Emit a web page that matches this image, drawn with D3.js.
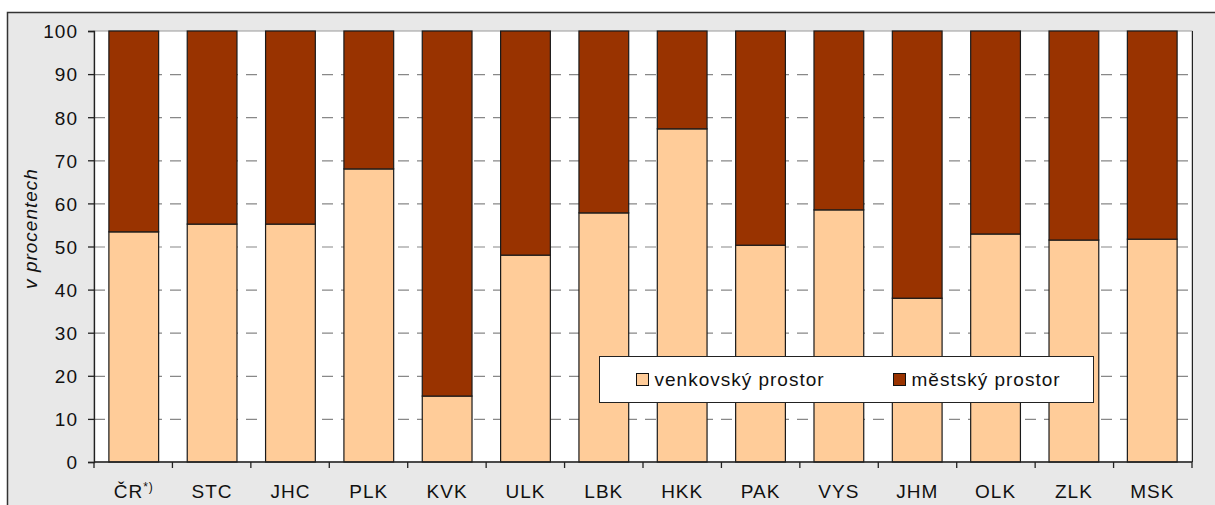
<!DOCTYPE html>
<html>
<head>
<meta charset="utf-8">
<script src="https://cdn.jsdelivr.net/npm/d3@7"></script>
<style>
  body { margin: 0; background: #fff; }
  svg { display: block; font-family: "Liberation Sans", Arial, sans-serif; }
  text { letter-spacing: 1px; }
</style>
</head>
<body>
<div id="chart"></div>
<script>
/* CONSTANTS AND GLOBALS */
const width = 1215;
const height = 505;
const margin = { top: 31, right: 23, bottom: 43, left: 94 };
const rural_color = '#FFCC99'
const urban_color = '#993300'
const fontSize = 19

/* DATA */
const regions = ['ČR', 'STC', 'JHC', 'PLK', 'KVK', 'ULK', 'LBK', 'HKK', 'PAK', 'VYS', 'JHM', 'OLK', 'ZLK', 'MSK']
const rural = [53.4, 55.2, 55.2, 68.0, 15.3, 48.0, 57.8, 77.3, 50.3, 58.5, 38.0, 52.9, 51.5, 51.7]
const urban = rural.map(v => 100 - v)
const seriesNames = ['venkovský prostor', 'městský prostor']
const yTicks = [0, 10, 20, 30, 40, 50, 60, 70, 80, 90, 100]

const data = regions.map((r, i) => ({ region: r, rural: rural[i], urban: urban[i] }))

/* SCALES */
const xScale = d3.scaleBand()
  .domain(regions)
  .range([margin.left, width - margin.right])
  .paddingInner(0.365)
  .paddingOuter(0.19)

const yScale = d3.scaleLinear()
  .domain([0, 100])
  .range([height - margin.bottom, margin.top])

const stack = d3.stack().keys(['rural', 'urban'])
const stacked = stack(data)

/* HTML ELEMENTS */
const svg = d3.select('#chart')
  .append('svg')
  .attr('width', width)
  .attr('height', height)

// outer gray frame
svg.append('rect')
  .attr('x', 7.5).attr('y', 12.5)
  .attr('width', width + 20).attr('height', height + 20)
  .attr('fill', '#E8E8E8')
  .attr('stroke', '#333')
  .attr('stroke-width', 1.5)

// plot area
svg.append('rect')
  .attr('x', margin.left).attr('y', margin.top)
  .attr('width', width - margin.right - margin.left)
  .attr('height', height - margin.bottom - margin.top)
  .attr('fill', 'white')
  .attr('stroke', '#999')

// gridlines
svg.append('g')
  .selectAll('line')
  .data(yTicks.filter(d => d > 0 && d < 100))
  .join('line')
  .attr('x1', margin.left)
  .attr('x2', width - margin.right)
  .attr('y1', d => yScale(d) + 0.5)
  .attr('y2', d => yScale(d) + 0.5)
  .attr('stroke', '#888')
  .attr('stroke-dasharray', '11,8')
  .attr('stroke-width', 1.2)

// right plot edge
svg.append('line')
  .attr('x1', width - margin.right + 0.5).attr('x2', width - margin.right + 0.5)
  .attr('y1', margin.top).attr('y2', height - margin.bottom)
  .attr('stroke', '#222')

// bars
svg.append('g')
  .selectAll('g')
  .data(stacked)
  .join('g')
  .attr('fill', d => d.key === 'rural' ? rural_color : urban_color)
  .selectAll('rect')
  .data(d => d)
  .join('rect')
  .attr('x', d => xScale(d.data.region))
  .attr('y', d => yScale(d[1]))
  .attr('width', xScale.bandwidth())
  .attr('height', d => yScale(d[0]) - yScale(d[1]))
  .attr('stroke', '#1a1a1a')
  .attr('stroke-width', 1.2)

// y axis
svg.append('g')
  .attr('transform', `translate(${margin.left},0)`)
  .call(d3.axisLeft(yScale).tickValues(yTicks).tickSize(6).tickPadding(10))
  .call(g => g.selectAll('text').attr('font-size', fontSize).attr('fill', '#111').attr('font-family', '"Liberation Sans", Arial, sans-serif').attr('dy', '0.36em'))
  .call(g => g.selectAll('line, .domain').attr('stroke', '#222').attr('stroke-width', 1.3))

// x axis line with ticks at category boundaries
const xAxisG = svg.append('g')
  .attr('transform', `translate(0,${height - margin.bottom})`)
xAxisG.append('line')
  .attr('x1', margin.left).attr('x2', width - margin.right)
  .attr('stroke', '#222').attr('stroke-width', 1.5)
xAxisG.selectAll('.tick')
  .data(d3.range(regions.length + 1))
  .join('line')
  .attr('class', 'tick')
  .attr('x1', i => margin.left + i * (width - margin.right - margin.left) / regions.length)
  .attr('x2', i => margin.left + i * (width - margin.right - margin.left) / regions.length)
  .attr('y1', 0).attr('y2', 6)
  .attr('stroke', '#222').attr('stroke-width', 1.3)

const xLabels = xAxisG.selectAll('text')
  .data(regions)
  .join('text')
  .attr('x', d => xScale(d) + xScale.bandwidth() / 2)
  .attr('y', 36)
  .attr('text-anchor', 'middle')
  .attr('font-size', fontSize)
  .attr('fill', '#111')
xLabels.text(d => d)
xLabels.filter(d => d === 'ČR')
  .append('tspan')
  .attr('font-size', 12)
  .attr('dy', -7)
  .text('*)')

// y title
svg.append('text')
  .attr('transform', `translate(37,${(margin.top + height - margin.bottom) / 2 - 18}) rotate(-90)`)
  .attr('text-anchor', 'middle')
  .attr('font-size', fontSize)
  .attr('font-style', 'italic')
  .attr('fill', '#111')
  .text('v procentech')

// legend
const legend = svg.append('g').attr('transform', 'translate(599.5,356.5)')
legend.append('rect')
  .attr('width', 494).attr('height', 46)
  .attr('fill', 'white')
  .attr('stroke', '#222')
const items = legend.selectAll('g')
  .data(seriesNames)
  .join('g')
  .attr('transform', (d, i) => `translate(${i === 0 ? 37 : 294},17)`)
items.append('rect')
  .attr('width', 12).attr('height', 12)
  .attr('fill', (d, i) => i === 0 ? rural_color : urban_color)
  .attr('stroke', '#111')
items.append('text')
  .attr('x', 18).attr('y', 12.5)
  .attr('font-size', fontSize)
  .attr('fill', '#111')
  .text(d => d)
</script>
</body>
</html>
